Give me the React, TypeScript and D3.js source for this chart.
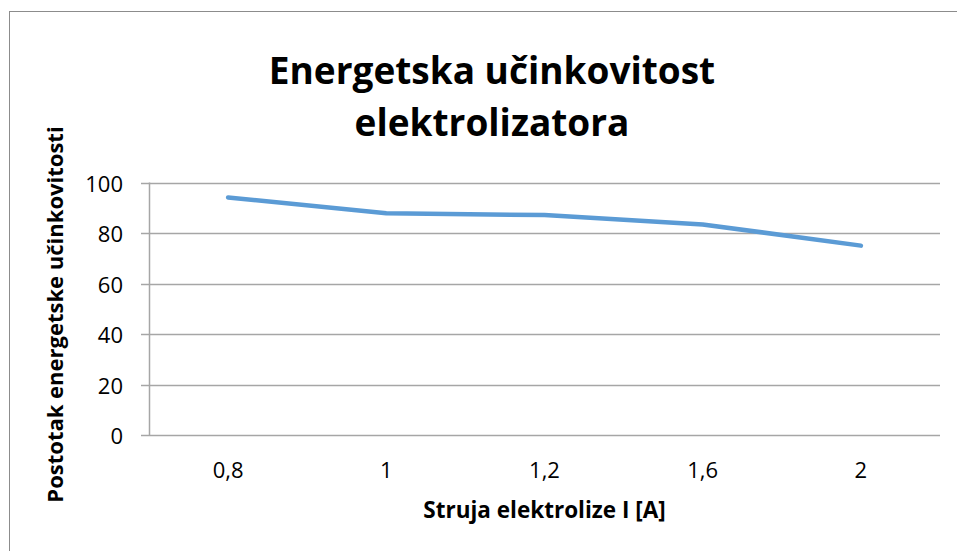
import React from "react";
import * as d3 from "d3";

const categories: string[] = ["0,8", "1", "1,2", "1,6", "2"];
const efficiency: number[] = [94.1, 87.8, 87.1, 83.4, 75.0];
const yTicks: number[] = [0, 20, 40, 60, 80, 100];
const titleLines: string[] = ["Energetska učinkovitost", "elektrolizatora"];
const xTitle = "Struja elektrolize I [A]";
const yTitle = "Postotak energetske učinkovitosti";

const W = 957;
const H = 551;
const FONT = "'Open Sans', 'Liberation Sans', sans-serif";
const GRID = "#a6a6a6";

export default function App() {
  const plotL = 149;
  const plotR = 940;
  const plotT = 182.5;
  const plotB = 435;

  const x = d3.scaleBand<string>().domain(categories).range([plotL, plotR]);
  const y = d3.scaleLinear().domain([0, 100]).range([plotB, plotT]);

  const line = d3
    .line<number>()
    .x((_, i) => (x(categories[i]) as number) + x.bandwidth() / 2)
    .y((d) => y(d));

  return (
    <svg
      width={W}
      height={H}
      style={{ position: "absolute", left: 0, top: 0, background: "#fff" }}
    >
      <rect x={0} y={0} width={W} height={H} fill="#fff" />
      {/* chart border (extends past right/bottom edges) */}
      <rect
        x={9.5}
        y={11.5}
        width={W + 20}
        height={H + 20}
        fill="none"
        stroke="#8c8c8c"
        strokeWidth={1}
      />
      {/* title */}
      <g fontFamily={FONT} fontWeight="bold" fontSize={37} fill="#000" textAnchor="middle">
        {titleLines.map((t, i) => (
          <text key={t} x={492} y={84 + i * 52}>
            {t}
          </text>
        ))}
      </g>
      {/* gridlines */}
      <g>
        {yTicks.map((t) => (
          <line
            key={t}
            x1={plotL - 8}
            x2={plotR}
            y1={Math.round(y(t)) + 0.5}
            y2={Math.round(y(t)) + 0.5}
            stroke={GRID}
            strokeWidth={1.5}
          />
        ))}
        <line
          x1={plotL + 0.5}
          x2={plotL + 0.5}
          y1={y(100)}
          y2={y(0)}
          stroke={GRID}
          strokeWidth={1.5}
        />
      </g>
      {/* y tick labels */}
      <g fontFamily={FONT} fontSize={22} fill="#000" textAnchor="end">
        {yTicks.map((t) => (
          <text key={t} x={123} y={y(t)} dominantBaseline="central">
            {t}
          </text>
        ))}
      </g>
      {/* x tick labels */}
      <g fontFamily={FONT} fontSize={22} fill="#000" textAnchor="middle">
        {categories.map((c) => (
          <text key={c} x={(x(c) as number) + x.bandwidth() / 2} y={478}>
            {c}
          </text>
        ))}
      </g>
      {/* series line */}
      <path
        d={line(efficiency) || ""}
        fill="none"
        stroke="#5b9bd5"
        strokeWidth={4.5}
        strokeLinecap="round"
        strokeLinejoin="round"
      />
      {/* axis titles */}
      <text
        x={(plotL + plotR) / 2}
        y={518}
        fontFamily={FONT}
        fontWeight="bold"
        fontSize={22.5}
        textAnchor="middle"
        fill="#000"
      >
        {xTitle}
      </text>
      <text
        transform={`translate(63, 314.5) rotate(-90)`}
        fontFamily={FONT}
        fontWeight="bold"
        fontSize={22}
        textAnchor="middle"
        fill="#000"
      >
        {yTitle}
      </text>
    </svg>
  );
}
